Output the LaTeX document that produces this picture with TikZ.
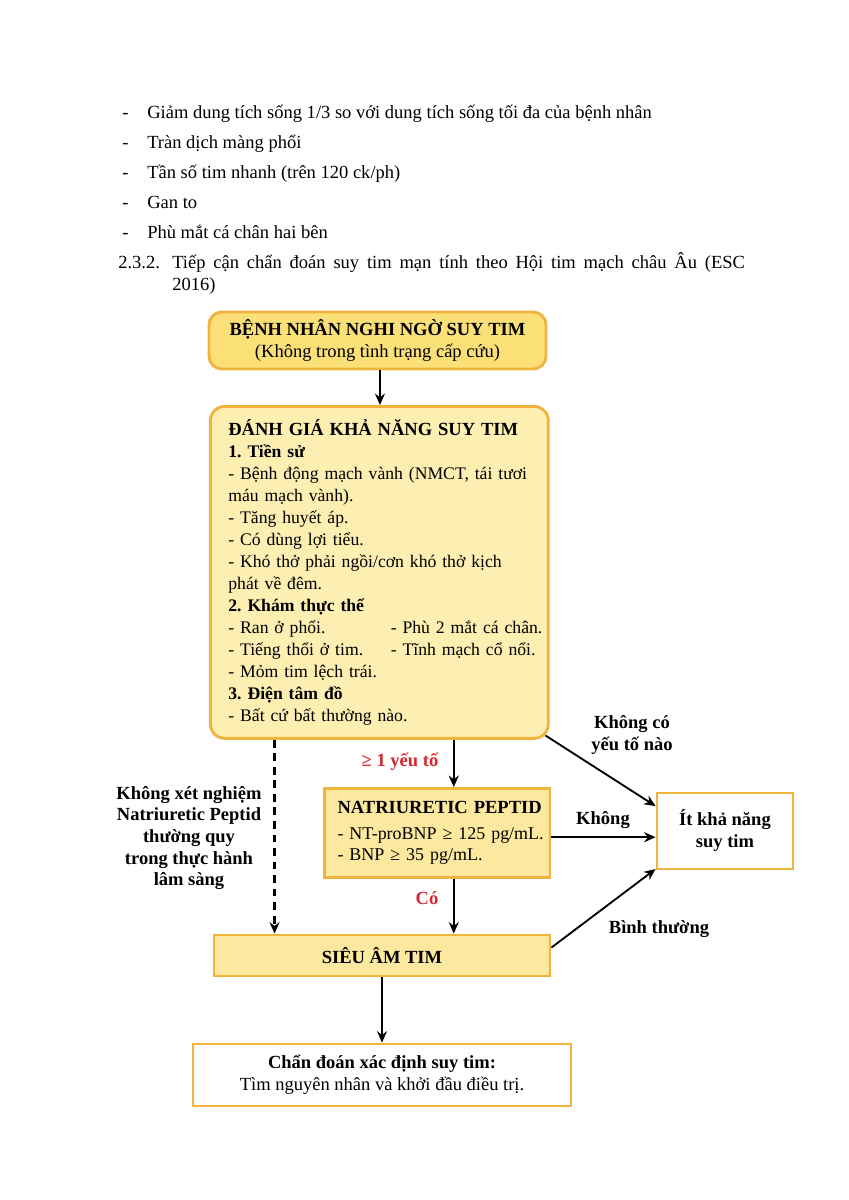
\documentclass[tikz,border=0pt]{standalone}
\usepackage{fontspec}
\setmainfont{Liberation Serif}
\usetikzlibrary{positioning, calc, arrows.meta}
\definecolor{gold_fill}{RGB}{251,224,120}
\definecolor{pale_fill}{RGB}{253,238,178}
\definecolor{soft_fill}{RGB}{252,232,158}
\definecolor{gold_edge}{RGB}{240,180,62}
\definecolor{flag_red}{RGB}{214,38,46}
\frenchspacing

\begin{document}
\begin{tikzpicture}[
    x=0.702pt, y=-0.702pt,
    >={Stealth[length=8pt, width=7pt]},
    font=\fontsize{13}{15.4}\selectfont,
    % Body text above the chart
    page_line/.style={anchor=base west, inner sep=0pt, font=\fontsize{13}{16}\selectfont},
    % Chart blocks
    round_block/.style={
        draw=gold_edge,
        line width=2pt,
        rounded corners=9pt,
        fill=gold_fill
    },
    flat_block/.style={
        draw=gold_edge,
        line width=2pt,
        fill=soft_fill
    },
    end_block/.style={
        draw=gold_edge,
        line width=2pt,
        fill=white
    },
    tag/.style={font=\fontsize{13}{15.2}\selectfont\bfseries, align=center, inner sep=0pt},
    arrow/.style={->, line width=1.3pt},
    dashed_arrow/.style={->, line width=1.5pt, dash pattern=on 5.5pt off 4pt}
]
    \useasboundingbox (0,0) rectangle (848,1200);

    % ==========================================
    % 1. TEXT ABOVE THE CHART
    % ==========================================
    \node (dash1) [page_line] at (122,118) {-};
    \node (line1) [page_line] at (147,118) {Giảm dung tích sống 1/3 so với dung tích sống tối đa của bệnh nhân};
    \node (dash2) [page_line] at (122,148) {-};
    \node (line2) [page_line] at (147,148) {Tràn dịch màng phổi};
    \node (dash3) [page_line] at (122,178) {-};
    \node (line3) [page_line] at (147,178) {Tần số tim nhanh (trên 120 ck/ph)};
    \node (dash4) [page_line] at (122,208) {-};
    \node (line4) [page_line] at (147,208) {Gan to};
    \node (dash5) [page_line] at (122,238) {-};
    \node (line5) [page_line] at (147,238) {Phù mắt cá chân hai bên};

    \node (sec_num) [page_line] at (118,268) {2.3.2.};
    \node (sec_title) [page_line] at (172,268) {\makebox[402pt][s]{Tiếp cận chẩn đoán suy tim mạn tính theo Hội tim mạch châu Âu (ESC}};
    \node (sec_title_end) [page_line] at (172,290) {2016)};

    % ==========================================
    % 2. CHART BLOCKS
    % ==========================================
    \node (suspect_box) [round_block, minimum width=236.6pt, minimum height=40pt, align=center,
        font=\fontsize{13}{16}\selectfont] at (377.5,340.5) {
        \textbf{BỆNH NHÂN NGHI NGỜ SUY TIM}\\
        (Không trong tình trạng cấp cứu)
    };

    \node (assess_box) [round_block, fill=pale_fill, anchor=north west, text width=212pt, inner xsep=12.6pt,
        inner ysep=6pt, minimum height=233pt, align=left, rounded corners=10pt,
        font=\fontsize{12.4}{15.4}\selectfont] at (209,405) {
        \textbf{\fontsize{13}{15.4}\selectfont ĐÁNH GIÁ KHẢ NĂNG SUY TIM}\\
        \textbf{1. Tiền sử}\\
        \mbox{- Bệnh động mạch vành (NMCT, tái tươi}\\
        máu mạch vành).\\
        - Tăng huyết áp.\\
        - Có dùng lợi tiểu.\\
        \mbox{- Khó thở phải ngồi/cơn khó thở kịch}\\
        phát về đêm.\\
        \textbf{2. Khám thực thể}\\
        \mbox{\makebox[114pt][l]{- Ran ở phổi.}- Phù 2 mắt cá chân.}\\
        \mbox{\makebox[114pt][l]{- Tiếng thổi ở tim.}- Tĩnh mạch cổ nổi.}\\
        - Mỏm tim lệch trái.\\
        \textbf{3. Điện tâm đồ}\\
        - Bất cứ bất thường nào.
    };

    \node (peptide_box) [flat_block, anchor=north west, text width=140pt, inner xsep=9.2pt,
        minimum height=62.5pt, align=left, font=\fontsize{12.6}{15}\selectfont] at (323,787) {
        \mbox{\bfseries\fontsize{13}{15}\selectfont NATRIURETIC PEPTID}\\[3pt]
        \mbox{- NT-proBNP ≥ 125 pg/mL.}\\
        - BNP ≥ 35 pg/mL.
    };

    \node (unlikely_box) [end_block, minimum width=95.5pt, minimum height=53.4pt, align=center,
        font=\fontsize{13}{15.4}\selectfont\bfseries] at (725,831) {
        Ít khả năng\\
        suy tim
    };

    \node (echo_box) [flat_block, minimum width=235.9pt, minimum height=28.8pt,
        font=\fontsize{13}{15.4}\selectfont\bfseries] at (382,955.5) {SIÊU ÂM TIM};

    \node (diagnosis_box) [end_block, minimum width=265.4pt, minimum height=43.5pt, align=center] at (382,1075) {
        \textbf{Chẩn đoán xác định suy tim:}\\
        Tìm nguyên nhân và khởi đầu điều trị.
    };

    % ==========================================
    % 3. CONNECTORS
    % ==========================================
    \draw [arrow] ([xshift=1.7pt]suspect_box.south) -- ([xshift=1.7pt]suspect_box.south |- assess_box.north);
    \draw [arrow] ([xshift=11.6pt]peptide_box.north |- assess_box.south) -- ([xshift=11.6pt]peptide_box.north);
    \draw [arrow] ([xshift=11.6pt]peptide_box.south) -- ([xshift=11.6pt]peptide_box.south |- echo_box.north);
    \draw [dashed_arrow] ([xshift=43.5pt]echo_box.north west |- assess_box.south) -- ([xshift=43.5pt]echo_box.north west);
    \draw [arrow] ([yshift=-3pt]peptide_box.east) -- ([yshift=-3pt]peptide_box.east -| unlikely_box.west);
    \draw [arrow] ([xshift=-3pt, yshift=3pt]assess_box.south east) -- ([yshift=17.5pt]unlikely_box.west);
    \draw [arrow] ([yshift=5.6pt]echo_box.east) -- ([yshift=1pt]unlikely_box.south west);
    \draw [arrow] (echo_box.south) -- (diagnosis_box.north);

    % ==========================================
    % 4. CONNECTOR LABELS
    % ==========================================
    \node (none_tag) [tag] at (632,735) {Không có\\yếu tố nào};
    \node (one_tag) [tag, text=flag_red] at (400,762) {≥ 1 yếu tố};
    \node (no_tag) [tag] at (603,820) {Không};
    \node (yes_tag) [tag, text=flag_red] at (427,898) {Có};
    \node (normal_tag) [tag] at (659,929) {Bình thường};
    \node (skip_tag) [tag] at (189,838) {Không xét nghiệm\\Natriuretic Peptid\\thường quy\\trong thực hành\\lâm sàng};

\end{tikzpicture}
\end{document}
